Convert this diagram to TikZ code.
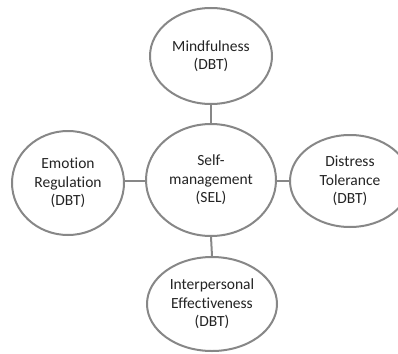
\documentclass[tikz,border=0pt]{standalone}
\usepackage{fontspec}
\setmainfont[Ligatures={NoCommon}]{Carlito}
\usetikzlibrary{shapes.geometric}
\definecolor{edgegray}{RGB}{135,135,135}
\definecolor{txtgray}{RGB}{35,35,35}
\begin{document}
\begin{tikzpicture}[x=1pt,y=-1pt,
  bubble/.style={ellipse, draw=edgegray, line width=2pt, fill=white, inner sep=0pt,
    text=txtgray, font=\fontsize{15.5}{18.5}\selectfont, align=center},
  link/.style={draw=edgegray, line width=2pt}]
\useasboundingbox (0,0) rectangle (398,353);
\clip (0,0) rectangle (398,353);
\node[bubble, minimum width=122pt, minimum height=96pt] (mind) at (211,56) {Mindfulness\\(DBT)};
\node[bubble, minimum width=130pt, minimum height=112pt] (self) at (211,180) {Self-\\management\\(SEL)};
\node[bubble, minimum width=112pt, minimum height=104pt] (emo) at (68,183) {Emotion\\Regulation\\(DBT)};
\node[bubble, minimum width=120pt, minimum height=92pt] (dist) at (350,181) {Distress\\Tolerance\\(DBT)};
\node[bubble, minimum width=130pt, minimum height=94pt] (inter) at (212,304) {Interpersonal\\Effectiveness\\(DBT)};
\draw[link] (mind.south) -- (self.north);
\draw[link] (self.south) -- (inter.north);
\draw[link] (emo.east |- 0,181) -- (self.west |- 0,181);
\draw[link] (self.east |- 0,181) -- (dist.west |- 0,181);
\end{tikzpicture}
\end{document}
